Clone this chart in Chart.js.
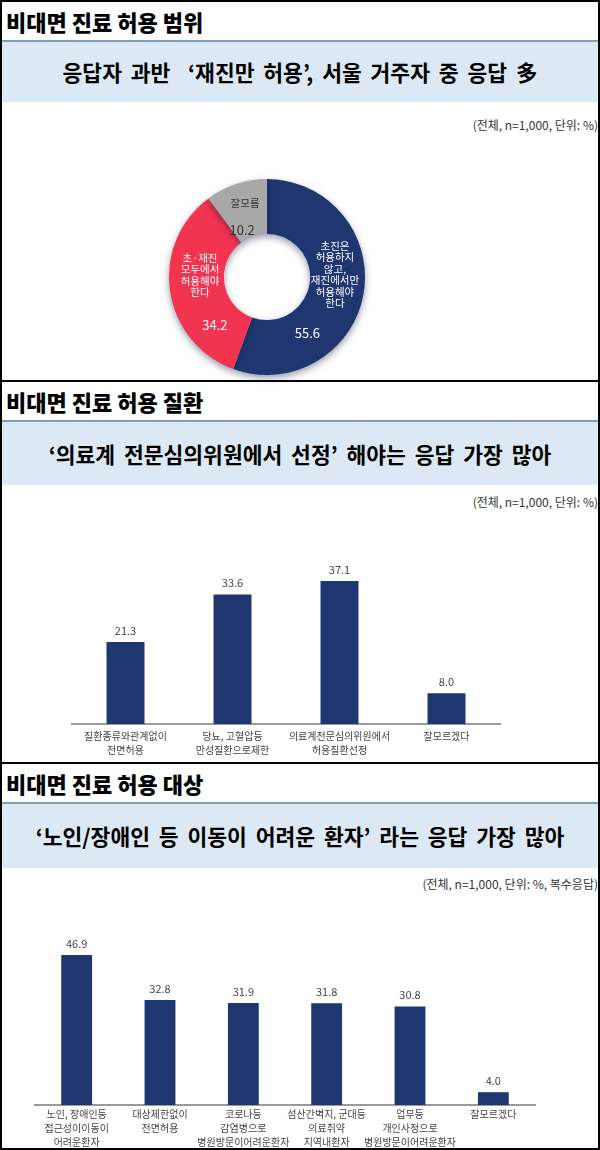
<!DOCTYPE html>
<html>
<head>
<meta charset="utf-8">
<script src="https://cdn.jsdelivr.net/npm/chart.js@4"></script>
<style>
  body { margin: 0; width: 600px; height: 1150px; position: relative; background: #fff;
    font-family: "Noto Sans CJK KR", "Noto Sans", sans-serif; overflow: hidden; }
  .sec { position: absolute; left: 0; width: 600px; box-sizing: border-box;
    border-left: 2px solid #000; border-right: 2px solid #000; border-top: 2px solid #000; }
  .title { height: 38px; line-height: 38px; padding-left: 4px; font-size: 22px; font-weight: 900; color: #000; }
  .band { height: 60px; background: #dce8f3; border-top: 2px solid #7f9cbc; text-align: center;
    line-height: 60px; font-size: 21.5px; font-weight: bold; color: #000; word-spacing: 4px; }
  .note { position: absolute; right: 2px; font-size: 12px; color: #333; }
  .box { position: absolute; }
</style>
</head>
<body>
<div class="sec" style="top:0;height:381px">
  <div class="title">비대면 진료 허용 범위</div>
  <div class="band">응답자 과반 &nbsp;‘재진만 허용’, 서울 거주자 중 응답 多</div>
</div>
<div class="sec" style="top:380px;height:383px">
  <div class="title">비대면 진료 허용 질환</div>
  <div class="band" style="height:63px;line-height:63px">‘의료계 전문심의위원에서 선정’ 해야는 응답 가장 많아</div>
</div>
<div class="sec" style="top:762px;height:388px;border-bottom:2px solid #000">
  <div class="title">비대면 진료 허용 대상</div>
  <div class="band" style="height:64px;line-height:64px">‘노인/장애인 등 이동이 어려운 환자’ 라는 응답 가장 많아</div>
</div>
<div class="note" style="top:116px">(전체, n=1,000, 단위: %)</div>
<div class="note" style="top:493px">(전체, n=1,000, 단위: %)</div>
<div class="note" style="top:875px">(전체, n=1,000, 단위: %, 복수응답)</div>

<div class="box" style="left:159px;top:169px;width:216px;height:216px"><canvas id="donut"></canvas></div>
<div class="box" style="left:2px;top:544px;width:596px;height:222px"><canvas id="bar1"></canvas></div>
<div class="box" style="left:2px;top:925px;width:596px;height:228px"><canvas id="bar2"></canvas></div>

<script>
// donut: 비대면 진료 허용 범위
const scopeLabels = [
  ["초진은", "허용하지", "않고,", "재진에서만", "허용해야", "한다"],
  ["초·재진", "모두에서", "허용해야", "한다"],
  ["잘모름"],
];
const scopeValues = [55.6, 34.2, 10.2];

// bar 1: 비대면 진료 허용 질환
const diseaseLabels = [
  ["질환종류와관계없이", "전면허용"],
  ["당뇨, 고혈압등", "만성질환으로제한"],
  ["의료계전문심의위원에서", "허용질환선정"],
  "잘모르겠다",
];
const diseaseValues = [21.3, 33.6, 37.1, 8.0];

// bar 2: 비대면 진료 허용 대상
const targetLabels = [
  ["노인, 장애인등", "접근성이이동이", "어려운환자"],
  ["대상제한없이", "전면허용"],
  ["코로나등", "감염병으로", "병원방문이어려운환자"],
  ["섬산간벽지, 군대등", "의료취약", "지역내환자"],
  ["업무등", "개인사정으로", "병원방문이어려운환자"],
  "잘모르겠다",
];
const targetValues = [46.9, 32.8, 31.9, 31.8, 30.8, 4.0];

const FONT = '"Noto Sans CJK KR", sans-serif';
const NAVY = "#1f3671";

// where the slice texts sit: [angle fraction, radius] for name and value
const nameSpot = [[0.44, 68], [0.58, 67], [0.55, 77]];
const valueSpot = [[0.72, 69], [0.22, 71], [0.24, 53]];
const sliceText = ["#ffffff", "#ffffff", "#333333"];

const donutText = {
  id: "donutText",
  beforeDatasetsDraw(chart) {
    // soft shadow under the ring, like the original 3D look
    const ctx = chart.ctx;
    ctx.save();
    ctx.shadowColor = "rgba(20,30,70,0.45)";
    ctx.shadowBlur = 7;
    ctx.shadowOffsetY = 3;
  },
  afterDatasetsDraw(chart) {
    const ctx = chart.ctx;
    ctx.restore();
    const arcs = chart.getDatasetMeta(0).data;
    ctx.save();
    ctx.textAlign = "center";
    ctx.textBaseline = "middle";
    arcs.forEach((arc, i) => {
      const p = arc.getProps(["x", "y", "startAngle", "endAngle"], true);
      const at = (spot) => {
        const a = p.startAngle + spot[0] * (p.endAngle - p.startAngle);
        return [p.x + spot[1] * Math.cos(a), p.y + spot[1] * Math.sin(a)];
      };
      ctx.fillStyle = sliceText[i];
      ctx.font = "10.5px " + FONT;
      const lines = scopeLabels[i];
      const [nx, ny] = at(nameSpot[i]);
      lines.forEach((t, k) => {
        ctx.fillText(t, nx, ny + (k - (lines.length - 1) / 2) * 11.5);
      });
      ctx.font = "13px " + FONT;
      const [vx, vy] = at(valueSpot[i]);
      ctx.fillText(scopeValues[i].toFixed(1), vx, vy);
    });
    ctx.restore();
  },
};

new Chart(document.getElementById("donut"), {
  type: "doughnut",
  data: {
    labels: scopeLabels.map((l) => l.join(" ")),
    datasets: [{
      data: scopeValues,
      backgroundColor: [NAVY, "#f1344f", "#a8a8a8"],
      borderWidth: 0,
    }],
  },
  options: {
    responsive: true,
    maintainAspectRatio: false,
    animation: false,
    cutout: "44%",
    layout: { padding: 10 },
    plugins: { legend: { display: false }, tooltip: { enabled: false } },
  },
  plugins: [donutText],
});

const barValues = {
  id: "barValues",
  afterDatasetsDraw(chart) {
    const ctx = chart.ctx;
    const ds = chart.data.datasets[0].data;
    ctx.save();
    ctx.font = "11px " + FONT;
    ctx.fillStyle = "#444";
    ctx.textAlign = "center";
    ctx.textBaseline = "bottom";
    chart.getDatasetMeta(0).data.forEach((bar, i) => {
      ctx.fillText(ds[i].toFixed(1), bar.x, bar.y - 6);
    });
    ctx.restore();
  },
};

function barChart(id, labels, values, yMax, pct, padding, tickPad) {
  new Chart(document.getElementById(id), {
    type: "bar",
    data: {
      labels: labels,
      datasets: [{
        data: values,
        backgroundColor: NAVY,
        barPercentage: pct,
        categoryPercentage: 1,
      }],
    },
    options: {
      responsive: true,
      maintainAspectRatio: false,
      animation: false,
      layout: { padding: padding },
      plugins: { legend: { display: false }, tooltip: { enabled: false } },
      scales: {
        x: {
          grid: { display: false, drawTicks: false },
          border: { display: true, color: "#9a9a9a", width: 2, dash: [1, 1] },
          ticks: {
            autoSkip: false,
            maxRotation: 0,
            padding: tickPad,
            color: "#444",
            font: { family: FONT, size: 10, lineHeight: 1.4 },
          },
        },
        y: { display: false, min: 0, max: yMax },
      },
    },
    plugins: [barValues],
  });
}

barChart("bar1", diseaseLabels, diseaseValues, 41.5, 0.355, { left: 70, right: 98, top: 20, bottom: 4 }, 5);
barChart("bar2", targetLabels, targetValues, 50, 0.37, { left: 33, right: 63, top: 20, bottom: 2 }, 2);
</script>
</body>
</html>
